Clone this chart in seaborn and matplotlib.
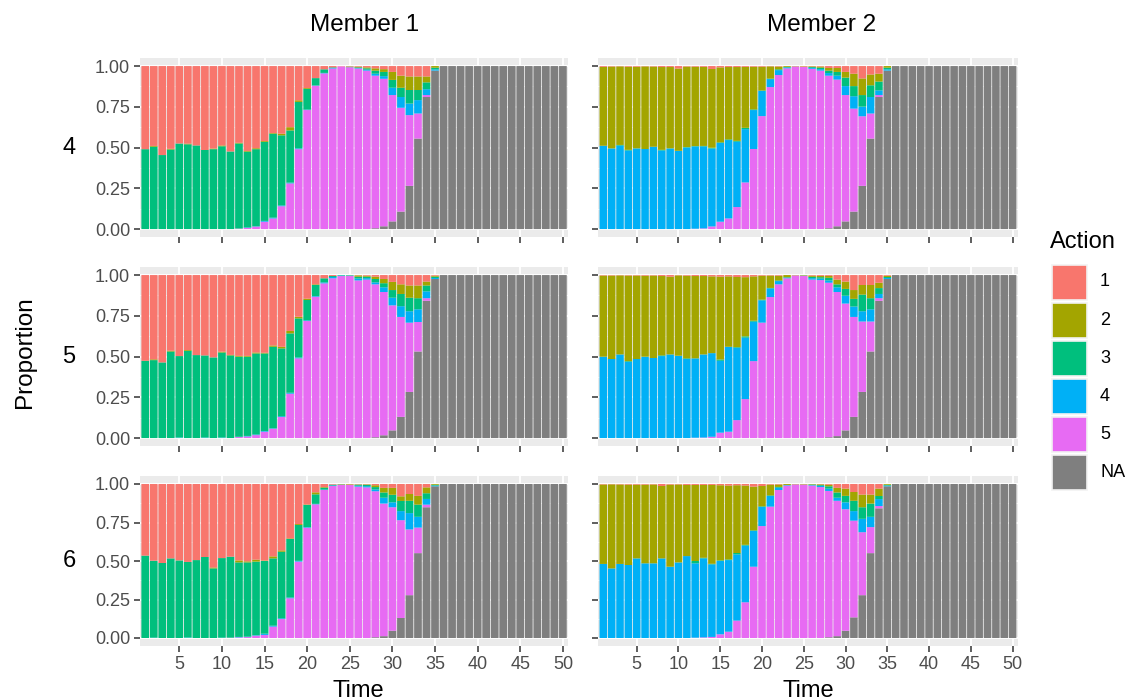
import matplotlib
matplotlib.use("Agg")
import matplotlib.pyplot as plt
from matplotlib.patches import Rectangle
import pandas as pd
import seaborn as sns

times = list(range(1, 51))
actions = ["1", "2", "3", "4", "5", "NA"]
action_colors = ["#F8766D", "#A3A500", "#00BF7D", "#00B0F6", "#E76BF3", "#7F7F7F"]
row_labels = ["4", "5", "6"]
members = ["Member 1", "Member 2"]
y_ticks = [0.0, 0.25, 0.5, 0.75, 1.0]
y_tick_labels = ["0.00", "0.25", "0.50", "0.75", "1.00"]
x_ticks = [5, 10, 15, 20, 25, 30, 35, 40, 45, 50]

# Shares read for time 1..35; from time 36 on every bar is NA.
# Member 1: action 1 fills the rest of each bar.
m1_r4_a2 = [0, .005, 0, .004, 0, .004, 0, 0, .004, .005, 0, .004, .004, .006, .005, .004, .01, .02, .01, .005,
            0, 0, 0, 0, .002, .004, .006, .014, .017, .049, .074, .083, .083, .036, .01]
m1_r4_a3 = [.49, .505, .454, .488, .525, .52, .513, .485, .49, .508, .476, .522, .465, .473, .485, .515, .43, .32,
            .285, .127, .045, .022, .004, 0, .003, .004, .008, .019, .026, .048, .057, .083, .062, .042, .01]
m1_r4_a4 = [0] * 12 + [.003, .002, .005, .005, .005, .005, .005, .003, .002, .003, .003, 0, 0, .003, .006, .012,
                       .016, .045, .066, .071, .082, .036, .008]
m1_r4_a5 = [0] * 11 + [.003, .007, .015, .045, .065, .14, .28, .49, .73, .879, .955, .985, .998, .993, .985, .972,
                       .936, .905, .775, .637, .434, .154, .012, 0]
m1_r4_na = [0] * 27 + [.005, .017, .047, .107, .265, .555, .81, .972]

m1_r5_a2 = [0, .005, 0, .005, 0, .005, 0, 0, 0, .005, .003, .005, .005, .006, .004, .008, .01, .015, .01, .008,
            .004, 0, 0, 0, .001, .008, .006, .014, .026, .05, .059, .075, .078, .024, .006]
m1_r5_a3 = [.474, .478, .464, .531, .5, .535, .509, .504, .495, .522, .507, .491, .486, .497, .476, .5, .416, .364,
            .24, .125, .068, .025, .006, .003, .002, .011, .009, .021, .025, .047, .075, .083, .068, .036, .008]
m1_r5_a4 = [0, 0, 0, 0, .003, 0, 0, .003, 0, .003, 0, .002, .003, .004, .004, .003, .005, .006, .005, .004,
            .004, .006, .008, .003, .003, .012, .009, .012, .029, .047, .066, .07, .078, .042, .006]
m1_r5_a5 = [0] * 11 + [.006, .01, .018, .039, .057, .129, .272, .489, .718, .867, .949, .98, .994, .994, .967, .972,
                       .938, .879, .767, .613, .425, .181, .016, 0]
m1_r5_na = [0] * 27 + [.005, .017, .047, .13, .283, .531, .842, .976]

m1_r6_a2 = [0, 0, 0, 0, 0, 0, 0, 0, .006, 0, 0, .013, .007, .013, .003, .013, .009, .004, .006, .003,
            .013, .004, 0, .002, .004, .002, .003, .012, .03, .045, .03, .044, .057, .038, .005]
m1_r6_a3 = [.535, .5, .487, .517, .504, .491, .506, .526, .452, .517, .526, .484, .482, .478, .472, .437, .432, .38,
            .233, .144, .062, .012, .005, .003, 0, .007, .009, .015, .034, .049, .066, .08, .079, .037, .005]
m1_r6_a4 = [0, .002, 0, 0, 0, .003, 0, 0, 0, .002, 0, .003, .003, .003, .008, .006, .005, .005, .005, .004,
            .003, .003, .004, 0, 0, .006, .008, .012, .038, .032, .059, .106, .07, .037, .005]
m1_r6_a5 = [0] * 10 + [.002, .004, .006, .015, .02, .074, .123, .258, .496, .716, .868, .961, .987, .994, .995,
                       .983, .978, .948, .861, .802, .635, .427, .166, .017, 0]
m1_r6_na = [0] * 27 + [.005, .012, .047, .13, .278, .551, .849, .985]

# Member 2: action 2 fills the rest of each bar.
m2_r4_a1 = [.005, .003, .002, .004, .004, .002, .003, .006, .006, .015, .003, .004, .005, .018, .008, .006, .006,
            .005, .004, .004, .002, .003, 0, 0, .002, .002, .003, .012, .012, .036, .047, .076, .052, .047, 0]
m2_r4_a3 = [0, 0, .004, .004, 0, 0, 0, .004, 0, 0, .003, .002, .003, .005, .004, .004, .005, .008, .004, .003,
            .003, .005, .003, 0, 0, .005, .009, .015, .023, .052, .062, .071, .072, .054, .01]
m2_r4_a4 = [.511, .495, .512, .482, .495, .491, .505, .482, .495, .48, .5, .505, .503, .478, .483, .481, .401,
            .327, .239, .154, .049, .03, .006, 0, 0, .006, .009, .016, .024, .055, .076, .059, .101, .029, .008]
m2_r4_a5 = [0] * 11 + [.002, .004, .016, .045, .065, .135, .286, .491, .693, .871, .945, .986, .998, .995, .983,
                       .972, .936, .9, .775, .632, .427, .154, .012, 0]
m2_r4_na = [0] * 27 + [.005, .017, .047, .107, .265, .555, .81, .972]

m2_r5_a1 = [.003, .003, .002, .003, .003, .004, .003, .006, .01, .002, .004, .006, .006, .008, .01, .008, .012,
            .013, .008, .004, .003, .004, 0, 0, 0, .004, .005, .005, .028, .04, .092, .061, .061, .047, .004]
m2_r5_a3 = [0, 0, 0, .004, 0, 0, 0, .004, 0, 0, .004, 0, 0, 0, .008, 0, .004, .008, .006, .004,
            .003, .004, .003, 0, 0, .008, .009, .016, .018, .042, .047, .102, .068, .036, .006]
m2_r5_a4 = [.499, .485, .513, .468, .485, .499, .491, .503, .513, .505, .485, .487, .51, .513, .441, .521, .444,
            .377, .242, .137, .053, .02, .004, 0, .002, .009, .009, .014, .029, .048, .064, .063, .075, .026, .006]
m2_r5_a5 = [0] * 11 + [.002, .003, .008, .033, .039, .11, .239, .472, .708, .865, .943, .98, .998, .995, .972,
                       .969, .948, .884, .778, .613, .432, .184, .016, 0]
m2_r5_na = [0] * 27 + [.005, .012, .047, .13, .283, .531, .842, .976]

m2_r6_a1 = [.003, .002, .003, .004, .004, .004, .003, .013, .004, .003, .006, .006, .006, .006, .008, .01, .008,
            .01, .017, .013, .004, .003, 0, 0, 0, 0, .002, .005, .025, .03, .052, .069, .069, .03, 0]
m2_r6_a3 = [0] * 11 + [.015, .004, .004, .004, .004, .009, .005, .004, .004, .004, .005, 0, 0, 0, .003, .005,
                       .015, .034, .042, .067, .075, .086, .02, .005]
m2_r6_a4 = [.481, .452, .481, .474, .517, .485, .485, .517, .463, .491, .532, .483, .513, .471, .476, .465, .43,
            .368, .232, .124, .069, .015, .004, 0, 0, .004, .008, .015, .02, .045, .062, .087, .067, .045, .005]
m2_r6_a5 = [0] * 11 + [.002, .004, .007, .024, .041, .113, .232, .463, .727, .853, .961, .99, .998, .997, .99,
                       .98, .95, .879, .789, .628, .409, .169, .015, 0]
m2_r6_na = [0] * 27 + [.005, .012, .047, .134, .278, .551, .842, .985]

panels = {
    ("Member 1", "4"): {"2": m1_r4_a2, "3": m1_r4_a3, "4": m1_r4_a4, "5": m1_r4_a5, "NA": m1_r4_na},
    ("Member 1", "5"): {"2": m1_r5_a2, "3": m1_r5_a3, "4": m1_r5_a4, "5": m1_r5_a5, "NA": m1_r5_na},
    ("Member 1", "6"): {"2": m1_r6_a2, "3": m1_r6_a3, "4": m1_r6_a4, "5": m1_r6_a5, "NA": m1_r6_na},
    ("Member 2", "4"): {"1": m2_r4_a1, "3": m2_r4_a3, "4": m2_r4_a4, "5": m2_r4_a5, "NA": m2_r4_na},
    ("Member 2", "5"): {"1": m2_r5_a1, "3": m2_r5_a3, "4": m2_r5_a4, "5": m2_r5_a5, "NA": m2_r5_na},
    ("Member 2", "6"): {"1": m2_r6_a1, "3": m2_r6_a3, "4": m2_r6_a4, "5": m2_r6_a5, "NA": m2_r6_na},
}
main_action = {"Member 1": "1", "Member 2": "2"}


def panel_frame(member, row):
    shares = panels[(member, row)]
    full = {}
    for a, vals in shares.items():
        assert len(vals) == 35, (member, row, a, len(vals))
        tail = 1.0 if a == "NA" else 0.0
        full[a] = list(vals) + [tail] * 15
    rest = [max(0.0, 1.0 - sum(full[a][i] for a in full)) for i in range(50)]
    full[main_action[member]] = rest
    recs = []
    for a in actions:
        for t, v in zip(times, full[a]):
            recs.append({"Time": t, "Action": a, "Proportion": v})
    return pd.DataFrame(recs)


sns.set_style("white")
plt.rcParams["font.family"] = ["Liberation Sans", "DejaVu Sans"]
plt.rcParams["text.color"] = "black"

W, H = 1128, 700
fig = plt.figure(figsize=(W / 100, H / 100), dpi=100)

col_box = {"Member 1": (140.1, 568.0), "Member 2": (598.3, 1017.6)}
row_box = {"4": (57.9, 237.2), "5": (266.9, 446.2), "6": (476.3, 645.7)}
palette = dict(zip(actions, action_colors))
tick_size = 13

for member in members:
    x0, x1 = col_box[member]
    for row in row_labels:
        y0, y1 = row_box[row]
        ax = fig.add_axes([x0 / W, 1 - y1 / H, (x1 - x0) / W, (y1 - y0) / H])
        df = panel_frame(member, row)
        sns.histplot(data=df, x="Time", hue="Action", weights="Proportion", hue_order=actions,
                     palette=palette, multiple="stack", discrete=True, shrink=0.9,
                     alpha=1, linewidth=0, legend=False, ax=ax)
        for p in ax.patches:
            p.set_snap(False)
        ax.set_facecolor("#EBEBEB")
        for s in ax.spines.values():
            s.set_visible(False)
        ax.set_axisbelow(True)
        ax.set_xlim(0.4, 50.6)
        ax.set_ylim(-0.05, 1.05)
        ax.set_xticks(x_ticks)
        ax.set_yticks(y_ticks)
        ax.set_yticks([0.125, 0.375, 0.625, 0.875], minor=True)
        ax.grid(True, which="major", color="white", linewidth=1.3)
        ax.grid(True, which="minor", axis="y", color="white", linewidth=0.6)
        ax.tick_params(axis="both", which="major", bottom=True, left=True, length=4.2, width=1.1,
                       color="#333333", labelcolor="#4D4D4D", labelsize=tick_size, pad=3.0)
        ax.tick_params(axis="both", which="minor", length=0)
        ax.set_xlabel("")
        ax.set_ylabel("")
        if member == "Member 1":
            ax.set_yticklabels(y_tick_labels)
        else:
            ax.set_yticklabels([])
        if row == "6":
            ax.set_xticklabels([str(t) for t in x_ticks])
        else:
            ax.set_xticklabels([])
        if member == "Member 1":
            fig.text(69 / W, 1 - ((y0 + y1) / 2) / H, row, ha="center", va="center",
                     fontsize=17, color="black")

fig.text(365 / W, 1 - 25 / H, "Member 1", ha="center", va="center", fontsize=17.5, color="black")
fig.text(822 / W, 1 - 25 / H, "Member 2", ha="center", va="center", fontsize=17.5, color="black")
fig.text(358 / W, 1 - 680 / H, "Time", ha="center", va="top", fontsize=17, color="black")
fig.text(808 / W, 1 - 680 / H, "Time", ha="center", va="top", fontsize=17, color="black")
fig.text(25 / W, 1 - 352 / H, "Proportion", ha="center", va="center", rotation=90,
         fontsize=17.5, color="black")

# legend
fig.text(1050 / W, 1 - 242 / H, "Action", ha="left", va="center", fontsize=17, color="black")
key_top = 264.5
for i, (a, c) in enumerate(zip(actions, action_colors)):
    top = key_top + i * 38.1
    fig.patches.append(Rectangle((1052 / W, 1 - (top + 35) / H), 35 / W, 35 / H,
                                 transform=fig.transFigure, facecolor=c,
                                 edgecolor="#F2F2F2", linewidth=1.2))
    fig.text(1100 / W, 1 - (top + 17.5) / H, a, ha="left", va="center",
             fontsize=tick_size, color="black")

fig.savefig("out.png", dpi=100)
